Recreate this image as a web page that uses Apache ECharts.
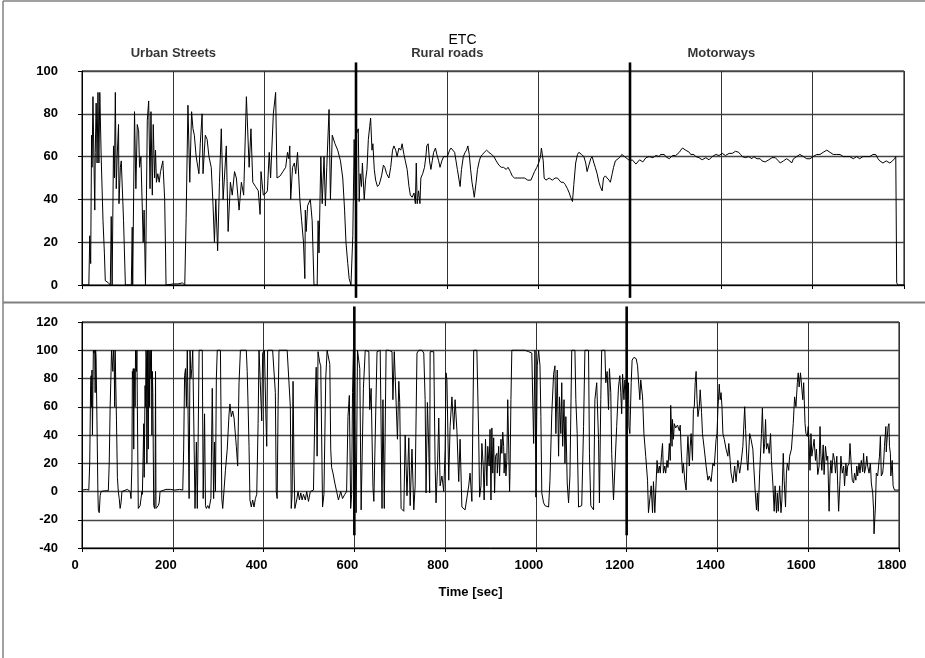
<!DOCTYPE html>
<html><head><meta charset="utf-8">
<script src="https://cdn.jsdelivr.net/npm/echarts@6/dist/echarts.min.js"></script>
<style>html,body{margin:0;padding:0;background:#fff}#c{width:925px;height:658px}</style>
</head><body><div id="c"></div>
<script>
// ---- data (time [s], value) ----
const chartTitle = 'ETC';
const sectionNames = ['Urban Streets', 'Rural roads', 'Motorways'];
const sectionCenters = [200, 800, 1400];
const sectionBounds = [600, 1200];
const xAxisName = 'Time [sec]';

const speedUrban = [[0,0],[15,0],[17,23],[19,10],[21,70],[22,55],[24,88],[26,60],[28,35],[29,62],[31,85],[33,57],[35,90],[37,57],[39,90],[42,60],[46,30],[49,15],[51,2],[55,1.5],[58,1],[62,0],[63,0],[64,32],[66,0],[67,0],[69,65],[71,50],[73,90],[75,45],[77,60],[80,75],[81,38],[84,55],[86,58],[89,58],[91,30],[95,0],[108,0],[110,27],[111,0],[112,0],[115,81],[118,45],[121,75],[124,72],[126,55],[129,60],[134,20],[136,35],[139,0],[141,0],[143,77],[146,86],[149,45],[151,81],[154,42],[156,75],[159,50],[161,63],[163,48],[166,52],[169,48],[172,53],[177,58],[181,40],[183,15],[184,0],[200,0.5],[210,0.5],[220,1],[225,0],[228,31],[232,84],[236,48],[240,81],[243,73],[246,70],[250,60],[256,52],[259,66],[263,80],[265,52],[270,70],[274,68],[278,60],[283,55],[287,37],[290,20],[293,40],[297,16],[301,48],[305,73],[309,40],[316,65],[320,25],[325,48],[329,42],[334,53],[338,50],[344,35],[349,48],[354,42],[356,42],[360,88],[366,55],[370,73],[374,48],[380,46],[386,44],[390,33],[392,53],[397,42],[403,43],[406,44],[410,62],[413,50],[419,80],[424,90],[427,50],[434,51],[440,53],[446,55],[450,62],[453,59],[455,65],[457,40],[461,55],[465,57],[468,52],[472,62],[477,40],[481,30],[485,20],[488,3],[489,35],[491,25],[494,37],[500,40],[504,30],[508,0],[515,0],[517,30],[519,15],[523,60],[526,38],[530,60],[533,37],[536,55],[541,82],[544,40],[548,70],[554,66],[560,63],[566,58],[571,50],[575,35],[578,20],[582,10],[585,3],[589,0],[591,0],[593,23],[596,68],[598,40],[600,70]];
const speedRural = [[605,73],[607,39],[609,52],[612,46],[614,57],[618,40],[621,49],[624,54],[627,68],[630,74],[632,78],[635,63],[637,66],[640,54],[643,49],[647,46],[651,47],[656,51],[660,56],[663,55],[667,52],[672,50],[676,55],[680,63],[683,65],[687,63],[690,60],[694,64],[698,63],[701,66],[705,61],[708,58],[712,54],[716,46],[719,42],[723,41],[727,43],[730,38],[732,57],[734,38],[737,44],[740,38],[742,50],[746,52],[750,55],[753,60],[755,65],[758,66],[761,58],[764,54],[767,58],[770,62],[774,64],[777,61],[781,58],[784,55],[788,58],[792,60],[795,60],[800,60],[805,63],[808,64],[812,64],[816,62],[819,58],[822,54],[825,50],[828,46],[831,54],[835,60],[839,62],[842,63],[845,65],[848,61],[851,54],[854,48],[857,44],[859,41],[863,48],[866,54],[870,58],[873,60],[877,61],[881,62],[886,63],[891,62],[897,61],[902,60],[907,58],[913,56],[918,55],[923,55],[929,54],[933,55],[938,53],[942,51],[947,50],[954,50],[962,50],[969,50],[976,49],[983,49],[987,51],[991,53],[996,55],[1000,57],[1004,60],[1006,64],[1010,58],[1012,50],[1016,49],[1023,50],[1030,49],[1036,50],[1041,50],[1045,49],[1049,48],[1054,48],[1058,47],[1063,45],[1067,43],[1070,41],[1074,39],[1077,47],[1081,57],[1085,61],[1088,62],[1094,61],[1099,60],[1103,57],[1106,53],[1110,56],[1114,59],[1117,60],[1121,57],[1124,55],[1128,52],[1132,48],[1135,46],[1139,44],[1142,50],[1146,51],[1150,50],[1154,49],[1157,48],[1161,52],[1164,55],[1168,58],[1174,59],[1179,60],[1182,61],[1188,60],[1194,59],[1200,58]];
const speedMotorway = [[1205,58.5],[1209,58],[1213,56.5],[1217,57],[1221,58.5],[1224,59],[1228,57.5],[1231,58],[1235,59.5],[1238,59],[1242,60],[1246,60],[1250,59.5],[1253,60],[1257,60.5],[1260,61],[1264,60],[1267,61],[1271,61.5],[1275,61],[1278,60],[1282,60],[1286,59],[1289,59],[1293,60.5],[1296,60],[1300,60.5],[1304,61],[1308,62],[1311,63],[1315,64],[1318,64],[1322,63],[1326,63],[1330,62],[1333,61],[1337,61.5],[1340,61],[1344,60],[1347,60],[1351,59.5],[1354,59],[1358,58.5],[1362,59],[1366,59.5],[1369,59],[1373,58.5],[1376,59],[1380,60],[1384,60],[1388,61],[1391,61],[1395,60.5],[1398,61],[1402,61.5],[1405,61],[1409,60.5],[1413,61],[1417,61.5],[1420,61],[1424,61.5],[1427,62],[1431,62.5],[1435,63],[1438,62],[1442,61],[1446,60],[1449,60],[1453,59.5],[1456,59],[1460,60],[1463,60],[1467,59],[1471,60],[1474,59.5],[1478,59],[1482,59.5],[1485,59],[1489,58],[1493,58],[1496,57.5],[1500,58],[1504,58.5],[1507,59],[1511,59.5],[1514,60],[1518,59.5],[1522,59],[1525,58],[1529,57],[1533,57.5],[1536,58],[1540,58.5],[1543,59],[1547,58.5],[1550,58],[1554,57],[1558,59],[1561,59.5],[1565,60],[1569,60.5],[1572,61],[1576,60.5],[1580,60],[1583,59.5],[1587,59],[1591,59.5],[1594,59],[1598,59.5],[1601,60],[1605,60.5],[1609,61],[1612,61],[1616,61],[1620,61.5],[1623,62],[1627,62.5],[1631,63],[1634,62.5],[1638,62],[1641,61.5],[1645,61],[1649,61],[1652,61],[1656,61.5],[1660,61],[1663,60.5],[1667,60],[1670,60],[1674,60],[1678,59.5],[1681,60],[1685,59.5],[1689,59],[1692,59.5],[1696,60],[1699,59.5],[1703,59],[1707,59.5],[1710,60],[1714,60.5],[1718,60],[1721,60],[1725,60],[1729,60.5],[1732,61],[1735,61.5],[1738,61],[1743,59],[1747,58],[1750,57.5],[1754,57],[1758,57.5],[1761,58],[1765,57.5],[1769,57],[1772,57.5],[1775,58],[1779,59],[1782,60],[1784,1],[1787,0],[1800,0]];

const torqueUrban = [[0,1],[10,1.5],[15,1],[17,20],[19,75],[20,82],[21,60],[22,86],[23,40],[25,100],[26,98],[28,100],[29,70],[30,100],[31,95],[33,50],[35,0],[36,-13],[38,-15],[40,-3],[42,0],[50,0.5],[58,0.5],[60,20],[62,60],[64,85],[65,100],[67,100],[68,85],[69,100],[71,90],[72,60],[73,100],[75,100],[76,50],[78,10],[80,0],[82,-5],[84,-12],[86,-8],[88,0],[92,1],[100,1.5],[104,2],[106,0],[108,-5],[110,20],[111,85],[112,80],[113,87],[114,30],[115,87],[117,60],[118,100],[120,85],[121,100],[122,60],[124,-12],[126,-13],[128,-10],[130,-5],[132,0],[133,-2],[135,30],[136,48],[137,10],[139,75],[140,60],[141,100],[142,95],[143,20],[144,100],[145,100],[146,30],[147,100],[148,98],[149,60],[150,100],[152,80],[153,100],[154,40],[155,85],[156,70],[157,30],[158,-10],[160,-12],[161,0],[162,85],[163,-12],[166,-12],[168,-10],[170,-8],[172,0],[175,1],[185,1.5],[195,1.5],[205,1],[215,1.5],[222,1],[224,30],[226,82],[228,87],[230,60],[232,100],[234,100],[236,-5],[238,100],[240,80],[242,87],[244,100],[247,100],[249,-12],[251,-12],[252,35],[254,-12],[256,40],[258,100],[262,100],[265,100],[267,-5],[270,55],[272,-10],[274,-12],[277,-10],[280,-12],[284,-5],[287,73],[290,-5],[292,35],[294,0],[296,80],[298,100],[302,100],[305,100],[308,-5],[310,-12],[313,-12],[316,15],[320,30],[324,55],[326,62],[329,53],[332,57],[335,52],[338,40],[340,32],[343,18],[345,60],[346,77],[349,100],[355,100],[362,100],[364,85],[366,60],[368,32],[370,-6],[373,-11],[376,-6],[379,-11],[382,-5],[385,-2],[388,48],[390,100],[394,100],[396,50],[398,98],[402,100],[405,55],[407,32],[409,100],[413,100],[420,100],[424,100],[426,70],[428,0],[430,-5],[432,60],[434,100],[440,100],[447,100],[452,100],[456,99],[459,60],[461,-12],[463,-2],[465,78],[467,20],[469,-12],[473,-6],[476,0],[479,-6],[482,-1],[485,-6],[488,-2],[492,-6],[495,0],[499,-7],[503,0],[510,1],[513,57],[516,88],[518,25],[520,99],[522,95],[524,91],[526,89],[528,90],[530,-11],[533,-2],[537,80],[540,100],[543,100],[546,90],[548,30],[550,17],[553,13],[557,6],[561,0],[565,-6],[570,0],[574,-5],[579,-2],[583,0],[586,53],[589,68],[592,-12],[594,-2],[596,70],[598,100]];
const torqueRural = [[600,100],[602,100],[604,-15],[607,100],[610,100],[612,87],[615,-13],[617,-12],[620,73],[624,100],[628,100],[632,99],[634,58],[637,73],[639,72],[641,3],[643,-7],[646,-7],[650,99],[654,100],[657,100],[661,-12],[663,65],[666,-12],[670,100],[676,100],[679,100],[683,99],[685,65],[688,99],[692,99],[695,37],[698,78],[700,63],[703,-12],[705,-13],[709,-14],[712,40],[716,-3],[720,38],[723,-10],[727,30],[731,-13],[734,4],[738,98],[742,100],[745,100],[749,100],[753,98],[756,65],[758,-1],[761,63],[764,30],[766,-1],[767,99],[771,100],[775,99],[778,18],[780,-8],[783,15],[786,52],[789,4],[793,11],[797,0],[800,30],[802,84],[804,79],[808,8],[811,46],[815,67],[819,44],[822,65],[826,43],[830,7],[833,37],[837,-11],[841,-12],[844,-13],[848,-13],[852,4],[855,13],[859,-7],[863,100],[866,100],[870,100],[874,39],[876,-4],[879,4],[881,34],[884,18],[886,-6],[889,37],[892,4],[894,32],[897,18],[899,44],[901,-6],[903,45],[905,13],[907,38],[909,-1],[911,25],[914,27],[915,13],[918,32],[920,11],[923,37],[925,27],[927,42],[929,32],[930,13],[932,27],[934,11],[936,22],[938,65],[942,0],[943,13],[945,65],[947,100],[951,100],[954,100],[962,100],[969,100],[976,100],[984,99],[987,99],[991,98],[995,34],[998,100],[1000,-4],[1003,89],[1006,100],[1009,89],[1011,53],[1013,-1],[1017,-8],[1020,-10],[1024,-10],[1028,-11],[1031,8],[1035,55],[1039,83],[1042,89],[1044,41],[1047,86],[1050,25],[1052,67],[1055,41],[1057,77],[1059,32],[1062,65],[1064,20],[1066,53],[1069,6],[1072,-8],[1075,11],[1079,100],[1083,100],[1086,100],[1088,65],[1091,41],[1094,-11],[1097,-11],[1101,-10],[1105,46],[1108,100],[1112,100],[1116,100],[1118,27],[1121,-10],[1124,-11],[1127,-13],[1130,65],[1134,77],[1138,37],[1140,-8],[1143,65],[1145,100],[1149,100],[1152,100],[1154,77],[1157,85],[1160,58],[1162,87],[1165,70],[1167,27],[1171,-6],[1174,-5],[1178,46],[1182,74],[1185,82],[1187,70],[1189,55],[1191,83],[1194,65],[1196,79],[1198,72]];
const torqueMotorway = [[1200,55],[1204,77],[1205,46],[1207,41],[1210,77],[1212,93],[1216,95],[1221,94],[1224,89],[1226,79],[1229,65],[1231,79],[1235,67],[1238,41],[1242,25],[1246,8],[1248,-15],[1251,-16],[1254,4],[1257,-15],[1259,7],[1262,-15],[1266,-14],[1267,22],[1269,13],[1272,18],[1274,13],[1277,27],[1279,34],[1281,13],[1284,18],[1286,13],[1289,22],[1291,17],[1294,34],[1296,22],[1297,61],[1300,32],[1301,51],[1303,37],[1305,48],[1308,45],[1312,47],[1316,43],[1318,47],[1320,30],[1323,13],[1325,20],[1328,8],[1331,1],[1333,25],[1335,39],[1338,18],[1340,32],[1342,41],[1345,22],[1347,58],[1349,60],[1351,77],[1353,85],[1355,65],[1357,53],[1360,60],[1362,72],[1365,56],[1367,41],[1371,30],[1375,18],[1379,8],[1382,11],[1386,7],[1390,20],[1393,18],[1397,37],[1399,41],[1401,58],[1404,76],[1406,65],[1408,70],[1410,60],[1412,41],[1415,37],[1419,30],[1423,25],[1425,34],[1428,22],[1430,13],[1434,6],[1438,18],[1441,7],[1445,22],[1449,13],[1452,20],[1456,32],[1460,60],[1462,44],[1465,22],[1467,15],[1471,41],[1474,37],[1478,30],[1480,18],[1483,1],[1486,-13],[1488,-1],[1490,-14],[1493,13],[1497,41],[1499,59],[1502,27],[1504,34],[1506,51],[1508,30],[1511,34],[1514,27],[1517,41],[1519,22],[1522,6],[1525,-14],[1527,4],[1530,-15],[1532,-1],[1534,-14],[1537,4],[1540,-15],[1542,-6],[1545,27],[1547,8],[1550,-11],[1552,13],[1554,20],[1557,15],[1559,25],[1563,30],[1567,48],[1570,67],[1573,60],[1576,77],[1578,84],[1580,74],[1583,84],[1586,85],[1588,65],[1590,77],[1593,48],[1595,41],[1598,39],[1600,46],[1602,34],[1604,15],[1606,41],[1608,25],[1611,32],[1613,37],[1616,22],[1618,30],[1621,12],[1624,18],[1626,46],[1628,25],[1630,15],[1633,33],[1635,12],[1638,32],[1641,22],[1643,25],[1646,-14],[1648,11],[1650,22],[1652,13],[1655,27],[1658,22],[1660,13],[1663,25],[1665,4],[1667,-14],[1670,8],[1672,25],[1675,13],[1678,18],[1680,4],[1683,20],[1685,11],[1687,18],[1690,20],[1692,34],[1695,18],[1697,8],[1700,6],[1702,13],[1705,8],[1707,18],[1709,11],[1712,20],[1714,13],[1717,22],[1720,14],[1722,27],[1724,13],[1727,18],[1729,25],[1731,18],[1734,13],[1737,20],[1739,6],[1742,-1],[1744,-13],[1745,-30],[1748,-11],[1750,13],[1753,11],[1755,18],[1757,25],[1759,39],[1761,11],[1764,13],[1766,20],[1768,32],[1771,46],[1772,28],[1773,34],[1776,46],[1778,48],[1779,32],[1781,27],[1782,11],[1785,22],[1787,4],[1790,1],[1796,1],[1800,1]];

// ---- chart ----
const FONT = "'Liberation Sans Narrow','Arial Narrow','Liberation Sans',Arial,sans-serif";
const speedData = speedUrban.concat(speedRural, speedMotorway);
const torqueData = torqueUrban.concat(torqueRural, torqueMotorway);

const chart = echarts.init(document.getElementById('c'), null, {renderer: 'canvas'});

function plain(v) { return String(v); }

function xAx(gi, showLabels) {
  return {
    type: 'value', gridIndex: gi, min: 0, max: 1800, interval: 200,
    axisLine: {show: true, onZero: false, lineStyle: {color: '#000', width: 1}},
    axisTick: {show: true, inside: false, length: 4, lineStyle: {color: '#000'}},
    axisLabel: {show: showLabels, formatter: plain, margin: 11, color: '#000', fontFamily: FONT, fontWeight: 'bold', fontSize: 13, padding: [0, 14, 0, 0]},
    splitLine: {show: true, lineStyle: {color: '#333', width: 1}},
    name: showLabels ? xAxisName : '', nameLocation: 'middle', nameGap: 38,
    nameTextStyle: {color: '#000', fontFamily: FONT, fontWeight: 'bold', fontSize: 13, padding: [0, 40, 0, 0]}
  };
}
function yAx(gi, mn, mx) {
  return {
    type: 'value', gridIndex: gi, min: mn, max: mx, interval: 20,
    axisLine: {show: true, lineStyle: {color: '#000', width: 1}},
    axisTick: {show: true, length: 4, lineStyle: {color: '#000'}},
    axisLabel: {formatter: plain, margin: 24, color: '#000', fontFamily: FONT, fontWeight: 'bold', fontSize: 13, padding: [0, 0, 12, 0]},
    splitLine: {show: true, lineStyle: {color: '#444', width: 1.4}}
  };
}

const series = [
  {type: 'line', xAxisIndex: 0, yAxisIndex: 0, data: speedData, showSymbol: false, symbol: 'none',
   lineStyle: {color: '#000', width: 1}, animation: false, z: 3},
  {type: 'line', xAxisIndex: 1, yAxisIndex: 1, data: torqueData, showSymbol: false, symbol: 'none',
   lineStyle: {color: '#000', width: 1}, animation: false, z: 3}
];
sectionBounds.forEach(function (b) {
  series.push({type: 'line', xAxisIndex: 0, yAxisIndex: 0, clip: false, symbol: 'none', animation: false, z: 4,
    data: [[b, -6], [b, 104]], lineStyle: {color: '#000', width: 2.6}});
  series.push({type: 'line', xAxisIndex: 1, yAxisIndex: 1, clip: false, symbol: 'none', animation: false, z: 4,
    data: [[b, -31], [b, 131]], lineStyle: {color: '#000', width: 2.6}});
});
series.push({
  type: 'scatter', xAxisIndex: 0, yAxisIndex: 0, clip: false, symbolSize: 0, animation: false, silent: true,
  data: sectionNames.map(function (n, i) { return {name: n, value: [sectionCenters[i], 108]}; }),
  label: {show: true, position: 'inside', formatter: '{b}', color: '#000', fontFamily: FONT, fontWeight: 'bold', fontSize: 13}
});

chart.setOption({
  backgroundColor: '#fff',
  animation: false,
  title: {text: chartTitle, left: 'center', top: 28,
    textStyle: {color: '#000', fontFamily: "'Liberation Sans',Arial,sans-serif", fontWeight: 'normal', fontSize: 14}},
  grid: [
    {left: 82, right: 21, top: 71, height: 214, show: true, borderColor: '#000', borderWidth: 1},
    {left: 82, right: 26, top: 322, height: 226, show: true, borderColor: '#000', borderWidth: 1}
  ],
  xAxis: [xAx(0, false), xAx(1, true)],
  yAxis: [yAx(0, 0, 100), yAx(1, -40, 120)],
  graphic: [
    {type: 'line', shape: {x1: 3, y1: 1, x2: 925, y2: 1}, style: {stroke: '#808080', lineWidth: 1.5}},
    {type: 'line', shape: {x1: 3, y1: 1, x2: 3, y2: 658}, style: {stroke: '#808080', lineWidth: 1.5}},
    {type: 'line', shape: {x1: 3, y1: 302.5, x2: 925, y2: 302.5}, style: {stroke: '#808080', lineWidth: 2}}
  ],
  series: series
});
</script></body></html>
